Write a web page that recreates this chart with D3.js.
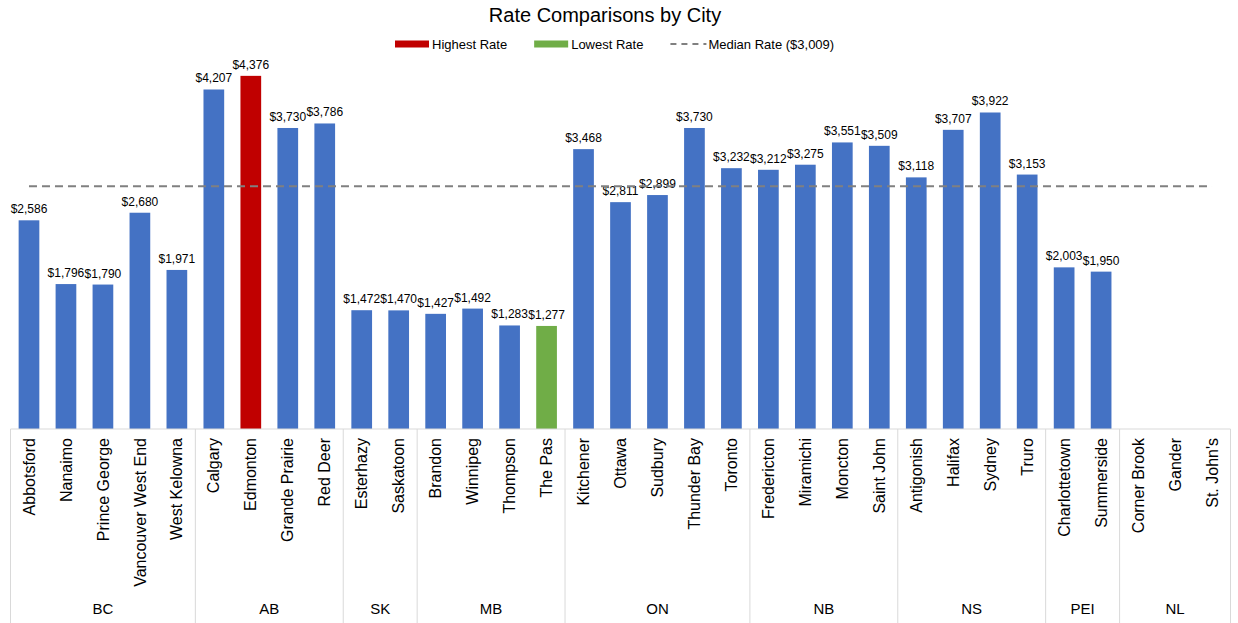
<!DOCTYPE html>
<html>
<head>
<meta charset="utf-8">
<script src="https://cdn.jsdelivr.net/npm/d3@7"></script>
<style>
  body { margin: 0; background: #fff; }
  text { font-family: "Liberation Sans", Arial, sans-serif; fill: #000; }
</style>
</head>
<body>
<div id="chart"></div>
<script>
// chart data
var provinces = ["BC", "AB", "SK", "MB", "ON", "NB", "NS", "PEI", "NL"];
var cities = [
  ["Abbotsford", "Nanaimo", "Prince George", "Vancouver West End", "West Kelowna"],
  ["Calgary", "Edmonton", "Grande Prairie", "Red Deer"],
  ["Esterhazy", "Saskatoon"],
  ["Brandon", "Winnipeg", "Thompson", "The Pas"],
  ["Kitchener", "Ottawa", "Sudbury", "Thunder Bay", "Toronto"],
  ["Fredericton", "Miramichi", "Moncton", "Saint John"],
  ["Antigonish", "Halifax", "Sydney", "Truro"],
  ["Charlottetown", "Summerside"],
  ["Corner Brook", "Gander", "St. John's"]
];
var rates = [
  [2586, 1796, 1790, 2680, 1971],
  [4207, 4376, 3730, 3786],
  [1472, 1470],
  [1427, 1492, 1283, 1277],
  [3468, 2811, 2899, 3730, 3232],
  [3212, 3275, 3551, 3509],
  [3118, 3707, 3922, 3153],
  [2003, 1950],
  [null, null, null]
];
var legendItems = ["Highest Rate", "Lowest Rate", "Median Rate"];

var width = 1238, height = 623;
var left = 10.5, right = 1230.5, baseY = 429, topY = 25.5;

// flatten into rows
var rows = [];
provinces.forEach(function (p, i) {
  cities[i].forEach(function (c, j) {
    rows.push({ prov: p, city: c, value: rates[i][j] });
  });
});
var vals = rows.filter(function (d) { return d.value != null; }).map(function (d) { return d.value; });
var maxV = d3.max(vals), minV = d3.min(vals), medV = d3.median(vals);
var fmt = function (v) { return "$" + d3.format(",.0f")(v); };

var svg = d3.select("#chart").append("svg")
  .attr("width", width)
  .attr("height", height);

var x = d3.scaleBand()
  .domain(rows.map(function (d, i) { return i; }))
  .range([left, right])
  .paddingInner(0.44)
  .paddingOuter(0.22);

var y = d3.scaleLinear().domain([0, 5000]).range([baseY, topY]);

// title
svg.append("text")
  .attr("x", 605).attr("y", 22)
  .attr("text-anchor", "middle")
  .style("font-size", "20px")
  .text("Rate Comparisons by City");

// bars
var withVal = rows.map(function (d, i) { d.i = i; return d; }).filter(function (d) { return d.value != null; });

svg.selectAll(".bar")
  .data(withVal)
  .enter().append("rect")
  .attr("class", "bar")
  .attr("x", function (d) { return x(d.i); })
  .attr("width", x.bandwidth())
  .attr("y", function (d) { return y(d.value); })
  .attr("height", function (d) { return y(0) - y(d.value); })
  .attr("fill", function (d) {
    if (d.value === maxV) return "#C00000";
    if (d.value === minV) return "#70AD47";
    return "#4472C4";
  });

svg.selectAll(".vlabel")
  .data(withVal)
  .enter().append("text")
  .attr("class", "vlabel")
  .attr("x", function (d) { return x(d.i) + x.bandwidth() / 2; })
  .attr("y", function (d) { return y(d.value) - 7; })
  .attr("text-anchor", "middle")
  .style("font-size", "12px")
  .text(function (d) { return fmt(d.value); });

// median line from first to last category centre
var half = x.bandwidth() / 2;
svg.append("line")
  .attr("x1", x(0) + half)
  .attr("x2", x(rows.length - 1) + half)
  .attr("y1", y(medV)).attr("y2", y(medV))
  .attr("stroke", "#808080")
  .attr("stroke-width", 2)
  .attr("stroke-dasharray", "8,5");

// category axis
var axisCol = "#d9d9d9";
svg.append("line")
  .attr("x1", left).attr("x2", right)
  .attr("y1", baseY).attr("y2", baseY)
  .attr("stroke", axisCol);

svg.selectAll(".cat")
  .data(rows)
  .enter().append("text")
  .attr("class", "cat")
  .attr("transform", function (d) {
    return "translate(" + (x(d.i) + half) + "," + (baseY + 9) + ") rotate(-90)";
  })
  .attr("dy", "0.35em")
  .attr("text-anchor", "end")
  .style("font-size", "16px")
  .text(function (d) { return d.city; });

// province groups
var groups = [], start = 0;
provinces.forEach(function (p, i) {
  groups.push({ prov: p, start: start, end: start + cities[i].length });
  start += cities[i].length;
});
var edge = function (k) { return left + k * (right - left) / rows.length; };

svg.selectAll(".sep")
  .data([0].concat(groups.map(function (g) { return g.end; })))
  .enter().append("line")
  .attr("class", "sep")
  .attr("x1", function (k) { return edge(k); })
  .attr("x2", function (k) { return edge(k); })
  .attr("y1", baseY).attr("y2", height)
  .attr("stroke", axisCol);

svg.selectAll(".prov")
  .data(groups)
  .enter().append("text")
  .attr("class", "prov")
  .attr("x", function (g) { return (edge(g.start) + edge(g.end)) / 2; })
  .attr("y", 614)
  .attr("text-anchor", "middle")
  .style("font-size", "15px")
  .text(function (g) { return g.prov; });

// legend
var legend = svg.append("g").attr("transform", "translate(395,44)");
var lx = 0;
legendItems.forEach(function (name, i) {
  var g = legend.append("g").attr("transform", "translate(" + lx + ",0)");
  if (i < 2) {
    g.append("rect")
      .attr("x", 0).attr("y", -3.5)
      .attr("width", 34).attr("height", 7)
      .attr("fill", i === 0 ? "#C00000" : "#70AD47");
  } else {
    g.append("line")
      .attr("x1", 0).attr("x2", 36)
      .attr("y1", 0).attr("y2", 0)
      .attr("stroke", "#808080")
      .attr("stroke-width", 2)
      .attr("stroke-dasharray", "6,5");
  }
  var t = g.append("text")
    .attr("x", i < 2 ? 37 : 38)
    .attr("dy", "0.35em")
    .style("font-size", "13px")
    .text(i === 2 ? name + " (" + fmt(medV) + ")" : name);
  lx += (i < 2 ? 37 : 38) + t.node().getComputedTextLength() + 27;
});
</script>
</body>
</html>
